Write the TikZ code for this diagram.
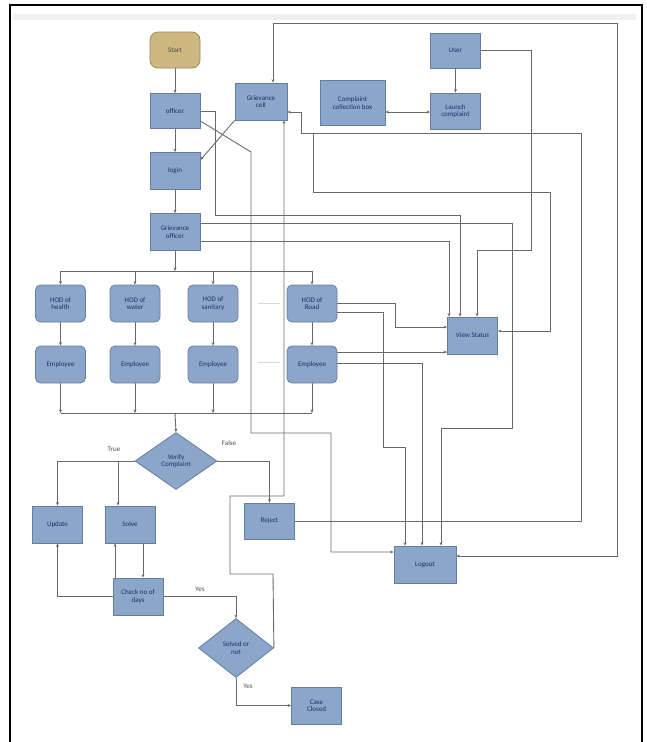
\documentclass[tikz,border=0pt]{standalone}
\usepackage{fontspec}
\setmainfont{Carlito}
\usetikzlibrary{shapes.geometric,arrows.meta,backgrounds}
\definecolor{bfill}{RGB}{140,166,202}
\definecolor{bdraw}{RGB}{100,125,165}
\definecolor{sfill}{RGB}{205,185,128}
\definecolor{sdraw}{RGB}{160,135,85}
\definecolor{btext}{RGB}{28,45,105}
\definecolor{lcol}{RGB}{105,105,105}
\begin{document}
\begin{tikzpicture}[x=1pt,y=-1pt,
  box/.style={draw=bdraw, line width=0.8pt, fill=bfill, inner sep=1pt, align=center,
    text=btext, font=\fontsize{7}{7.5}\selectfont, minimum width=50pt, minimum height=36pt},
  rbox/.style={box, rounded corners=5pt},
  dia/.style={box, diamond, inner sep=0pt},
  conn/.style={draw=lcol, line width=0.9pt},
  tip/.tip={Stealth[length=3.5pt,width=3pt]},
  arr/.style={conn, -tip},
  darr/.style={conn, tip-tip},
  lbl/.style={font=\fontsize{7}{7.5}\selectfont, text=black!70},
  faint/.style={draw=gray!30, line width=0.7pt}
]
\useasboundingbox (0,0) rectangle (646,742);
% page frame
\fill[gray!12] (13,14) rectangle (636,20);
\draw[line width=2pt] (10,742) -- (10,5) -- (642,5) -- (642,742);

% nodes
\node[rbox, fill=sfill, draw=sdraw, text=black!75, rounded corners=8pt] (start) at (175,50) {Start};
\node[box, minimum height=35pt] (officer) at (175,111) {officer};
\node[box, minimum height=37pt] (login) at (175,171) {login};
\node[box, minimum height=37pt] (gofficer) at (175,232) {Grievance\\officer};
\node[box, minimum width=52pt, minimum height=37pt] (gcell) at (261,101.5) {Grievance\\cell};
\node[box, minimum width=65pt, minimum height=45pt] (ccbox) at (352.5,103) {Complaint\\collection box};
\node[box, minimum height=35pt] (user) at (455.5,50.5) {User};
\node[box] (launch) at (455.5,111) {Launch\\complaint};

\node[rbox, minimum height=37pt] (hod1) at (60.5,303.5) {HOD of\\health};
\node[rbox, minimum height=37pt] (hod2) at (135,303.5) {HOD of\\water};
\node[rbox, minimum height=37pt] (hod3) at (213,303.5) {HOD of\\sanitary};
\node[rbox, minimum height=37pt] (hod4) at (312,303.5) {HOD of\\Road};
\node[rbox, minimum height=37pt] (emp1) at (60.5,364.5) {Employee};
\node[rbox, minimum height=37pt] (emp2) at (135,364.5) {Employee};
\node[rbox, minimum height=37pt] (emp3) at (213,364.5) {Employee};
\node[rbox, minimum height=37pt] (emp4) at (312,364.5) {Employee};

\node[box, minimum height=37pt] (vstatus) at (472.5,335.5) {View Status};
\node[dia, minimum width=82pt, minimum height=57pt] (verify) at (176,461) {Verify\\Complaint};
\node[box, minimum height=37pt] (update) at (57.5,524.5) {Update};
\node[box, minimum height=37pt] (solve) at (130,524.5) {Solve};
\node[box] (reject) at (269.5,521) {Reject};
\node[box, minimum height=37pt] (check) at (138,596.5) {Check no of\\days};
\node[box, minimum width=62pt, minimum height=37pt] (logout) at (425,564.5) {Logout};
\node[dia, minimum width=75pt, minimum height=59pt] (solved) at (236,648) {Solved or\\not};
\node[box, minimum height=37pt] (closed) at (316.5,705.5) {Case\\Closed};

\coordinate (busT) at (175,271);
\coordinate (busB) at (175,413);
\coordinate (jn) at (313,133);

% labels
\node[lbl] (ltrue) at (114,449) {True};
\node[lbl] (lfalse) at (229,443) {False};
\node[lbl] (lyes1) at (200,589) {Yes};
\node[lbl] (lyes2) at (248,686) {Yes};

\begin{pgfonlayer}{background}
% main column
\draw[arr] (start) -- (officer);
\draw[arr] (officer) -- (login);
\draw[arr] (login) -- (gofficer);
\draw[arr] (gofficer) -- (busT);
\draw[conn] (hod1.north |- busT) -- (hod4.north |- busT);
\foreach \n in {1,2,3,4} {
  \draw[arr] (hod\n.north |- busT) -- (hod\n.north);
  \draw[arr] (hod\n) -- (emp\n);
  \draw[arr] (emp\n.south) -- (emp\n.south |- busB);
}
\draw[conn] (emp1.south |- busB) -- (emp4.south |- busB);
\draw[arr] (busB) -- (verify.north);

% verify branches
\draw[arr] (verify.west) -| (update.north);
\draw[arr] (verify.west -| 118,0) -- (solve.north -| 118,0);
\draw[arr] (verify.east) -| (reject.north);
\draw[arr] (solve.south -| 143,0) -- (check.north -| 143,0);
\draw[arr] (check.north -| 115,0) -- (solve.south -| 115,0);
\draw[arr] (check.west) -| (update.south);
\draw[arr] (check.east) -| (solved.north);
\draw[arr] (solved.south) |- (closed.west);
\draw[arr] (solved.east) -- (273,574) -- (230,574) -- (230,496) -- (284,496) -- (gcell.south -| 284,0);

% top area
\draw[arr] (user) -- (launch);
\draw[darr] (ccbox.east |- 0,112) -- (launch.west |- 0,112);
\draw[arr] (gcell.south west) -- (login.east |- 0,160);
\draw[darr] (gcell.north -| 273,0) -- (273,23) -- (617,23) -- (617,556) -- (logout.east |- 0,556);
\draw[arr] (officer.east |- 0,121) -- (251,152) -- (251,433) -- (331,433) -- (331,552) -- (logout.west |- 0,552);
\draw[arr] (officer.east) -- (215,111) -- (215,215) -- (460,215) -- (vstatus.north -| 460,0);
\draw[arr] (gofficer.east |- 0,223) -- (512,223) -- (512,428) -- (441,428) -- (logout.north -| 441,0);
\draw[arr] (gofficer.east |- 0,241) -- (449,241) -- (vstatus.north -| 449,0);
\draw[arr] (user.east) -- (531,50.5) -- (531,250) -- (477,250) -- (vstatus.north -| 477,0);
\draw[arr] (reject.east) -- (581,521) -- (581,133) -- (301,133) -- (301,112) -- (gcell.east |- 0,112);
\draw[arr] (jn) -- (313,192) -- (550,192) -- (550,331) -- (vstatus.east |- 0,331);

% road branch
\draw[arr] (hod4.east) -- (395,303.5) -- (395,327) -- (vstatus.west |- 0,327);
\draw[arr] (hod4.east |- 0,312) -- (383,312) -- (383,447) -- (405,447) -- (logout.north -| 405,0);
\draw[arr] (emp4.east |- 0,352) -- (vstatus.west |- 0,352);
\draw[arr] (emp4.east |- 0,363) -- (422,363) -- (logout.north -| 422,0);

% faint marks
\draw[faint] (258,303) -- (280,303);
\draw[faint] (258,362) -- (280,362);
\end{pgfonlayer}
\end{tikzpicture}
\end{document}
